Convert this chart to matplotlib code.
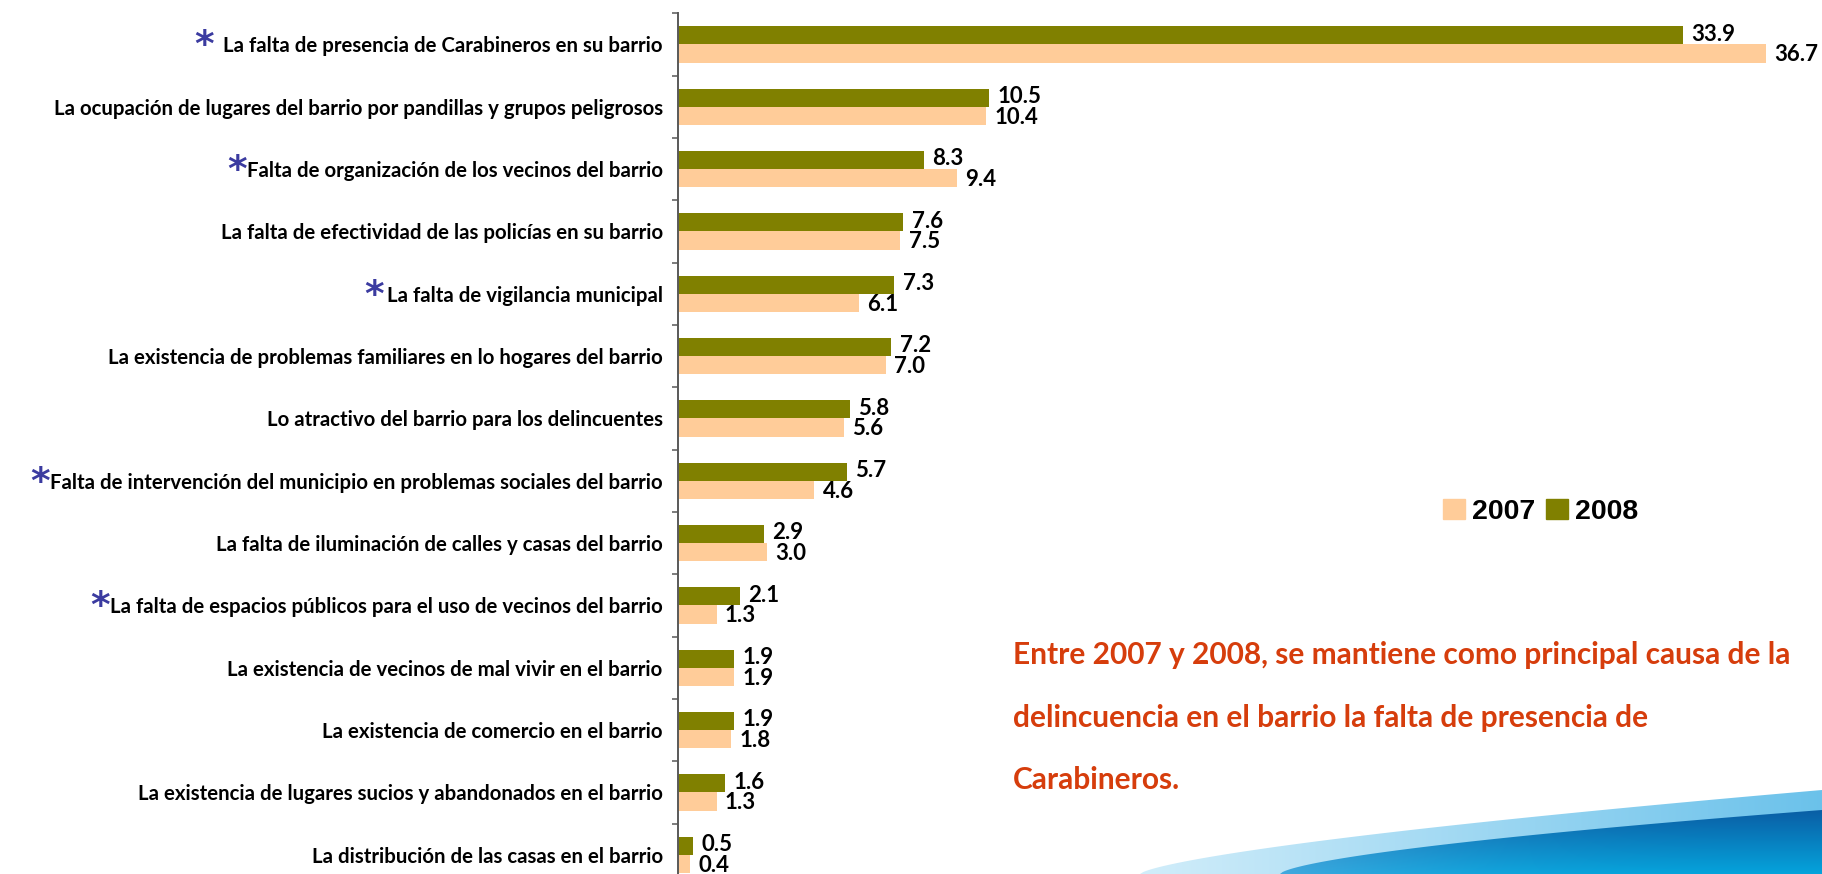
import numpy as np
import matplotlib.pyplot as plt
from matplotlib.patches import Polygon, Patch

plt.rcParams['font.family'] = ['Lato', 'DejaVu Sans']

categories = [
    "La falta de presencia de Carabineros en su barrio",
    "La ocupación de lugares del barrio por pandillas y grupos peligrosos",
    "Falta de organización de los vecinos del barrio",
    "La falta de efectividad de las policías en su barrio",
    "La falta de vigilancia municipal",
    "La existencia de problemas familiares en lo hogares del barrio",
    "Lo atractivo del barrio para los delincuentes",
    "Falta de intervención del municipio en problemas sociales del barrio",
    "La falta de iluminación de calles y casas del barrio",
    "La falta de espacios públicos para el uso de vecinos del barrio",
    "La existencia de vecinos de mal vivir en el barrio",
    "La existencia de comercio en el barrio",
    "La existencia de lugares sucios y abandonados en el barrio",
    "La distribución de las casas en el barrio",
]
v2007 = [36.7, 10.4, 9.4, 7.5, 6.1, 7.0, 5.6, 4.6, 3.0, 1.3, 1.9, 1.8, 1.3, 0.4]
v2008 = [33.9, 10.5, 8.3, 7.6, 7.3, 7.2, 5.8, 5.7, 2.9, 2.1, 1.9, 1.9, 1.6, 0.5]
starred = [0, 2, 4, 7, 9]
note_lines = [
    "Entre 2007 y 2008, se mantiene como principal causa de la",
    "delincuencia en el barrio la falta de presencia de",
    "Carabineros.",
]

W, H = 1822, 874
fig = plt.figure(figsize=(W / 100, H / 100), dpi=100)

# decorative swoosh at the bottom right
bg = fig.add_axes([0, 0, 1, 1], zorder=-1)
bg.set_xlim(0, W)
bg.set_ylim(H, 0)
bg.axis('off')

xs = np.linspace(1140, W, 200)
top_light = H - 84 * ((xs - 1140) / (W - 1140)) ** 0.7
light = Polygon(list(zip(xs, top_light)) + [(W, H), (1140, H)], closed=True,
                facecolor='none', edgecolor='none')
bg.add_patch(light)
nx, ny = 200, 60
t = np.linspace(0, 1, nx)[None, :, None]
c0 = np.array([0.82, 0.93, 0.98])
c1 = np.array([0.42, 0.76, 0.92])
img = np.broadcast_to(c0 + (c1 - c0) * t, (ny, nx, 3))
im = bg.imshow(img, extent=[1140, W, H, 786], aspect='auto', interpolation='bilinear')
im.set_clip_path(light)

xd = np.linspace(1280, W, 200)
top_dark = H - 64 * ((xd - 1280) / (W - 1280)) ** 0.65
dark = Polygon(list(zip(xd, top_dark)) + [(W, H), (1280, H)], closed=True,
               facecolor='none', edgecolor='none')
bg.add_patch(dark)
tv = np.linspace(0, 1, ny)[:, None, None]
th = np.linspace(0, 1, nx)[None, :, None]
ctop = np.array([0.04, 0.36, 0.64])
cbot = np.array([0.02, 0.64, 0.86])
base = ctop + (cbot - ctop) * tv
lift = np.array([0.45, 0.68, 0.88])
w = 0.55 * (1 - th) ** 3
img2 = base * (1 - w) + lift * w
im2 = bg.imshow(img2, extent=[1280, W, H, 808], aspect='auto', interpolation='bilinear')
im2.set_clip_path(dark)

# main chart
ax = fig.add_axes([678 / W, 1 - 886 / H, 1144 / W, (886 - 13.3) / H])
ax.set_facecolor('none')
y = np.arange(len(categories))
h = 0.29
ax.barh(y - h / 2, v2008, height=h, color='#808000', label='2008')
ax.barh(y + h / 2, v2007, height=h, color='#FFCC99', label='2007')
ax.set_ylim(len(categories) - 0.5, -0.5)
ax.set_xlim(0, 38.58)

for i in range(len(categories)):
    ax.annotate(f'{v2008[i]:.1f}', xy=(v2008[i], i - h / 2), xytext=(6, 1),
                textcoords='offset points', va='center', ha='left',
                fontsize=16, fontweight='bold')
    ax.annotate(f'{v2007[i]:.1f}', xy=(v2007[i], i + h / 2), xytext=(6, -1),
                textcoords='offset points', va='center', ha='left',
                fontsize=16, fontweight='bold')

ax.set_yticks(y, categories, fontsize=14.7, fontweight='bold')
ax.set_yticks(np.arange(-0.5, len(categories)), minor=True)
ax.tick_params(axis='y', which='major', length=0, pad=11)
ax.tick_params(axis='y', which='minor', length=4, width=1.1, color='#595959')
ax.set_xticks([])
for s in ['top', 'right', 'bottom']:
    ax.spines[s].set_visible(False)
ax.spines['left'].set_color('#595959')
ax.spines['left'].set_linewidth(1.4)

labels = ax.get_yticklabels()
star_gap = {0: 7, 2: 0, 4: 2, 7: 0, 9: 0}
for i in starred:
    ax.annotate('*', xy=(0, 0.5), xycoords=labels[i], xytext=(-star_gap[i], 0),
                textcoords='offset points', ha='right', va='center',
                fontsize=27, fontweight='bold', color='#3B3BA0',
                family='DejaVu Sans', annotation_clip=False)

handles = [Patch(color='#FFCC99'), Patch(color='#808000')]
fig.legend(handles, ['2007', '2008'], loc='center left',
           bbox_to_anchor=(1443 / W, 1 - 512 / H), ncol=2, frameon=False,
           borderpad=0, borderaxespad=0, handlelength=0.78, handleheight=0.72,
           handletextpad=0.25, columnspacing=0.35,
           prop={'family': 'Liberation Sans', 'weight': 'bold', 'size': 20.5})

for k, line in enumerate(note_lines):
    fig.text(1013 / W, 1 - (664 + 62.5 * k) / H, line, ha='left', va='baseline',
             fontsize=21.5, fontweight='bold', color='#D63D0C')

fig.savefig('out.png', dpi=100)
